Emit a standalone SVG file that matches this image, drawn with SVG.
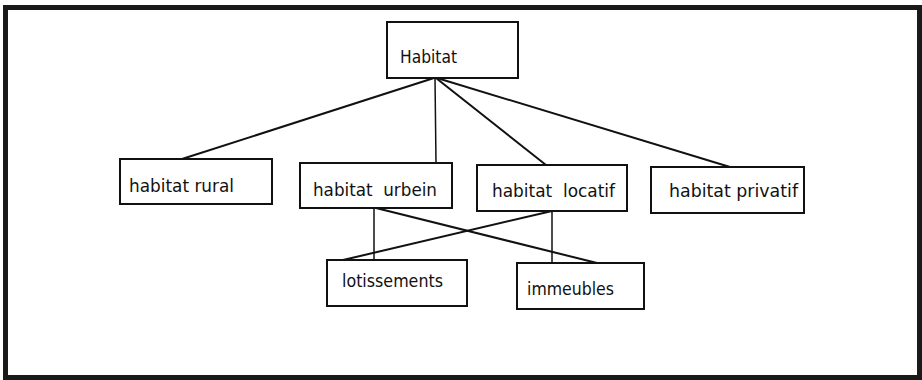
<svg xmlns="http://www.w3.org/2000/svg" width="922" height="380" viewBox="0 0 922 380">
<style>
.box{fill:#fff;stroke:#111;stroke-width:2}
.lbl{font-family:"DejaVu Sans Condensed","Liberation Sans",sans-serif;font-size:18px;fill:#111;white-space:pre}
.ln{stroke:#111;stroke-width:2;fill:none}
.lv{stroke:#111;stroke-width:1.5;fill:none}
</style>
<rect x="5.5" y="7.5" width="914" height="370" fill="#fff" stroke="#1a1a1a" stroke-width="5"/>
<g id="connectors">
<line class="ln" x1="434" y1="78" x2="182" y2="159"/>
<line class="lv" x1="435" y1="78" x2="436" y2="163"/>
<line class="ln" x1="436" y1="78" x2="546" y2="165"/>
<line class="ln" x1="437" y1="78" x2="730" y2="167"/>
<line class="lv" x1="374" y1="208" x2="374" y2="260"/>
<line class="ln" x1="376" y1="208" x2="597" y2="263"/>
<line class="lv" x1="552" y1="211" x2="552" y2="263"/>
<line class="ln" x1="552" y1="211" x2="343" y2="260"/>
</g>
<g id="habitat">
<rect class="box" x="387" y="22" width="131" height="56"/>
<text class="lbl" x="400" y="63" textLength="57" lengthAdjust="spacingAndGlyphs">Habitat</text>
</g>
<g id="rural">
<rect class="box" x="120" y="159" width="152" height="45"/>
<text class="lbl" x="129" y="192" textLength="105" lengthAdjust="spacingAndGlyphs">habitat rural</text>
</g>
<g id="urbain">
<rect class="box" x="300" y="163" width="152" height="45"/>
<text class="lbl" x="313" y="196" textLength="124" lengthAdjust="spacingAndGlyphs" xml:space="preserve">habitat  urbein</text>
</g>
<g id="locatif">
<rect class="box" x="477" y="165" width="150" height="46"/>
<text class="lbl" x="492" y="197" textLength="123" lengthAdjust="spacingAndGlyphs" xml:space="preserve">habitat  locatif</text>
</g>
<g id="privatif">
<rect class="box" x="651" y="167" width="153" height="46"/>
<text class="lbl" x="669" y="197" textLength="129" lengthAdjust="spacingAndGlyphs">habitat privatif</text>
</g>
<g id="lotissements">
<rect class="box" x="327" y="260" width="140" height="46"/>
<text class="lbl" x="342" y="287" textLength="101" lengthAdjust="spacingAndGlyphs">lotissements</text>
</g>
<g id="immeubles">
<rect class="box" x="517" y="263" width="127" height="46"/>
<text class="lbl" x="527" y="295" textLength="87" lengthAdjust="spacingAndGlyphs">immeubles</text>
</g>
</svg>
